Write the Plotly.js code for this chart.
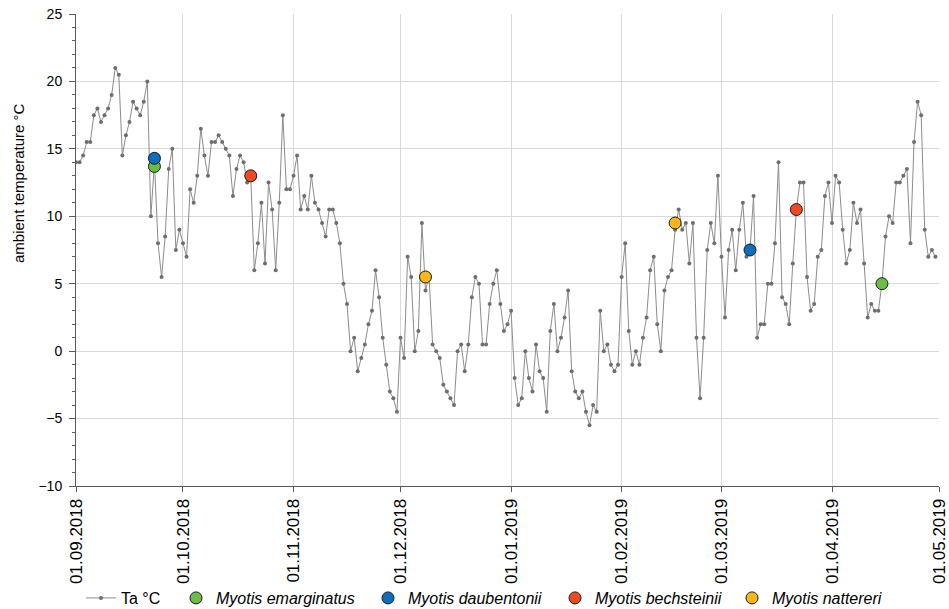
<!DOCTYPE html>
<html>
<head>
<meta charset="utf-8">
<script src="https://cdn.plot.ly/plotly-3.0.1.min.js"></script>
<style>
  html, body { margin: 0; padding: 0; background: #fff; }
  #chart { width: 949px; height: 609px; }
</style>
</head>
<body>
<div id="chart"></div>
<script>
// ---- Data ----
const startDate = '2018-09-01';   // first day of the daily series
// daily ambient temperature (°C), 01.09.2018 – 30.04.2019
const taSep = [14.0,14.0,14.5,15.5,15.5,17.5,18.0,17.0,17.5,18.0,19.0,21.0,20.5,14.5,16.0,17.0,18.5,18.0,17.5,18.5,20.0,10.0,14.0,8.0,5.5,8.5,13.5,15.0,7.5,9.0];
const taOct = [8.0,7.0,12.0,11.0,13.0,16.5,14.5,13.0,15.5,15.5,16.0,15.5,15.0,14.5,11.5,13.5,14.5,14.0,12.5,13.0,6.0,8.0,11.0,6.5,12.5,10.5,6.0,11.0,17.5,12.0,12.0];
const taNov = [13.0,14.5,10.5,11.5,10.5,13.0,11.0,10.5,9.5,8.5,10.5,10.5,9.5,8.0,5.0,3.5,0.0,1.0,-1.5,-0.5,0.5,2.0,3.0,6.0,4.0,1.0,-1.0,-3.0,-3.5,-4.5];
const taDec = [1.0,-0.5,7.0,5.5,0.0,1.5,9.5,4.5,5.5,0.5,0.0,-0.5,-2.5,-3.0,-3.5,-4.0,0.0,0.5,-1.5,0.5,4.0,5.5,5.0,0.5,0.5,3.5,5.0,6.0,3.5,1.5,2.0];
const taJan = [3.0,-2.0,-4.0,-3.5,0.0,-2.0,-3.0,0.5,-1.5,-2.0,-4.5,1.5,3.5,0.0,1.0,2.5,4.5,-1.5,-3.0,-3.5,-3.0,-4.5,-5.5,-4.0,-4.5,3.0,0.0,0.5,-1.0,-1.5,-1.0];
const taFeb = [5.5,8.0,1.5,-1.0,0.0,-1.0,1.0,2.5,6.0,7.0,2.0,0.0,4.5,5.5,6.0,9.0,10.5,9.0,9.5,6.5,9.5,1.0,-3.5,1.0,7.5,9.5,8.0,13.0];
const taMar = [7.0,2.5,7.5,9.0,6.0,9.0,11.0,7.0,7.5,11.5,1.0,2.0,2.0,5.0,5.0,8.0,14.0,4.0,3.5,2.0,6.5,10.5,12.5,12.5,5.5,3.0,3.5,7.0,7.5,11.5,12.5];
const taApr = [9.5,13.0,12.5,9.0,6.5,7.5,11.0,9.5,10.5,6.5,2.5,3.5,3.0,3.0,5.0,8.5,10.0,9.5,12.5,12.5,13.0,13.5,8.0,15.5,18.5,17.5,9.0,7.0,7.5,7.0];

// bat records (date, temperature)
const emarginatusDates = ['2018-09-23', '2019-04-15'];
const emarginatusTemps = [13.7, 5.0];
const daubentoniiDates = ['2018-09-23', '2019-03-09'];
const daubentoniiTemps = [14.3, 7.5];
const bechsteiniiDates = ['2018-10-20', '2019-03-22'];
const bechsteiniiTemps = [13.0, 10.5];
const nattereriDates = ['2018-12-08', '2019-02-16'];
const nattereriTemps = [5.5, 9.5];

// axis ticks
const tickDates = ['2018-09-01','2018-10-01','2018-11-01','2018-12-01','2019-01-01','2019-02-01','2019-03-01','2019-04-01','2019-05-01'];
const tickLabels = ['01.09.2018','01.10.2018','01.11.2018','01.12.2018','01.01.2019','01.02.2019','01.03.2019','01.04.2019','01.05.2019'];
const yTitle = 'ambient temperature °C';

// ---- Build daily date list ----
const taValues = [].concat(taSep, taOct, taNov, taDec, taJan, taFeb, taMar, taApr);
const taDates = [];
{
  const d0 = new Date(startDate + 'T00:00:00Z');
  for (let i = 0; i < taValues.length; i++) {
    const d = new Date(d0.getTime() + i * 86400000);
    taDates.push(d.toISOString().slice(0, 10));
  }
}

const FONT = 'Liberation Sans, Arial, sans-serif';
const plotL = 76, plotR = 939, plotB = 486, plotT = 14;
const pw = plotR - plotL, ph = plotB - plotT;
const legY = (plotB - 598) / ph;
function lx(px) { return (px - plotL) / pw; }
function ly(py) { return (plotB - py) / ph; }

function species(name, xs, ys, color, legendId) {
  return {
    type: 'scatter', mode: 'markers', x: xs, y: ys,
    name: '<i>' + name + '</i>',
    legend: legendId,
    marker: { size: 12, color: color, line: { color: '#1a1a1a', width: 1 } }
  };
}

const traces = [
  {
    type: 'scatter', mode: 'lines+markers', x: taDates, y: taValues,
    name: 'Ta °C', legend: 'legend',
    line: { color: '#8c8c8c', width: 1 },
    marker: { size: 4, color: '#6e6e6e' }
  },
  species('Myotis emarginatus', emarginatusDates, emarginatusTemps, '#6cbd45', 'legend2'),
  species('Myotis daubentonii', daubentoniiDates, daubentoniiTemps, '#0a6fbd', 'legend3'),
  species('Myotis bechsteinii', bechsteiniiDates, bechsteiniiTemps, '#ef4a24', 'legend4'),
  species('Myotis nattereri', nattereriDates, nattereriTemps, '#fbb617', 'legend5')
];

function leg(px) {
  return {
    orientation: 'h', x: lx(px), xanchor: 'left', y: legY, yanchor: 'middle',
    font: { family: FONT, size: 16, color: '#000' },
    bgcolor: 'rgba(0,0,0,0)', borderwidth: 0
  };
}

const layout = {
  width: 949, height: 609,
  margin: { l: plotL, r: 949 - plotR, t: plotT, b: 609 - plotB, pad: 0, autoexpand: false },
  paper_bgcolor: '#fff', plot_bgcolor: '#fff',
  font: { family: FONT, size: 14, color: '#000' },
  showlegend: true,
  legend: leg(81),
  legend2: leg(176),
  legend3: leg(368),
  legend4: leg(555),
  legend5: leg(732),
  xaxis: {
    type: 'date',
    range: ['2018-09-01', '2019-05-01'],
    tickmode: 'array', tickvals: tickDates, ticktext: tickLabels,
    tickangle: -90,
    tickfont: { family: FONT, size: 17, color: '#000' },
    ticks: 'outside', ticklen: 5, tickcolor: '#595959', tickwidth: 1,
    showgrid: true, gridcolor: '#d9d9d9', gridwidth: 1,
    showline: true, linecolor: '#595959', linewidth: 1,
    zeroline: false, automargin: false
  },
  yaxis: {
    range: [-10, 25], dtick: 5, tick0: 0,
    tickfont: { family: FONT, size: 14, color: '#000' },
    ticks: 'outside', ticklen: 6, tickcolor: '#595959', tickwidth: 1,
    ticklabelstandoff: 4,
    minor: { dtick: 1, ticks: 'outside', ticklen: 3, tickcolor: '#595959', showgrid: false },
    showgrid: true, gridcolor: '#d9d9d9', gridwidth: 1,
    showline: true, linecolor: '#595959', linewidth: 1,
    zeroline: false, automargin: false
  },
  annotations: [{
    text: yTitle, xref: 'paper', yref: 'paper',
    x: lx(18), y: ly(183), xanchor: 'center', yanchor: 'middle',
    textangle: -90, showarrow: false,
    font: { family: FONT, size: 15, color: '#000' }
  }]
};

Plotly.newPlot('chart', traces, layout, { displayModeBar: false, staticPlot: true });
</script>
</body>
</html>
